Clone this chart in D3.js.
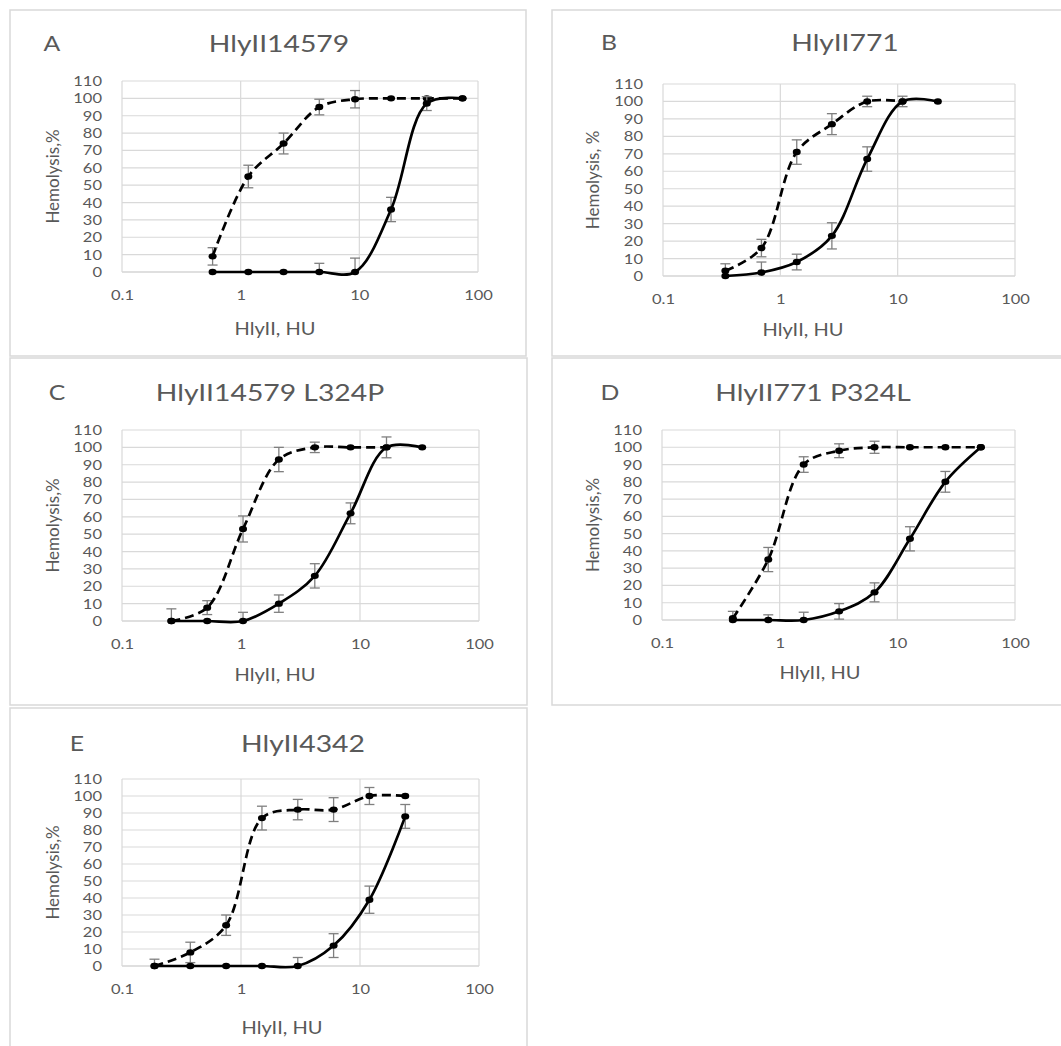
<!DOCTYPE html>
<html>
<head>
<meta charset="utf-8">
<script src="https://cdn.jsdelivr.net/npm/d3@7"></script>
<style>
  body { margin: 0; background: #fff; }
  text { font-family: Lato, "Open Sans", sans-serif; fill: #595959; }
</style>
</head>
<body>
<div id="chart"></div>
<script>
// hemolysis vs HlyII dose, 5 panels, log x axis

// panel A - HlyII14579
var xA = [0.58, 1.16, 2.3, 4.6, 9.2, 18.5, 37, 74];
var dashA = [9, 55, 74, 95, 99.5, 100, 100, 100];
var dashErrA = [5, 6.5, 6, 4.5, 5, 0, 0, 0];
var solidA = [0, 0, 0, 0, 0, 36, 97, 100];
var solidErrA = [0, 0, 0, 5, 8, 7, 4, 0];

// panel B - HlyII771
var xB = [0.34, 0.69, 1.38, 2.75, 5.5, 11, 22];
var dashB = [3, 16, 71, 87, 100, 100, null];
var dashErrB = [4, 5, 7, 6, 3, 0, 0];
var solidB = [0, 2, 8, 23, 67, 100, 100];
var solidErrB = [0, 6, 4.5, 7.5, 7, 3, 0];

// panel C - HlyII14579 L324P
var xC = [0.26, 0.52, 1.04, 2.08, 4.17, 8.33, 16.7, 33.3];
var dashC = [0, 7.7, 53, 93, 100, 100, 100, null];
var dashErrC = [7, 4, 7.5, 7, 3, 0, 0, 0];
var solidC = [0, 0, 0, 10, 26, 62, 100, 100];
var solidErrC = [0, 0, 5, 5, 7, 6, 6, 0];

// panel D - HlyII771 P324L
var xD = [0.4, 0.8, 1.6, 3.2, 6.4, 12.8, 25.6, 51.2];
var dashD = [1, 35, 90, 98, 100, 100, 100, 100];
var dashErrD = [4, 7, 4.5, 4, 3.5, 0, 0, 0];
var solidD = [0, 0, 0, 5, 16, 47, 80, 100];
var solidErrD = [0, 3, 4.5, 4.5, 5.5, 7, 6, 0];

// panel E - HlyII4342
var xE = [0.1875, 0.375, 0.75, 1.5, 3, 6, 12, 24];
var dashE = [0, 8, 24, 87, 92, 92, 100, 100];
var dashErrE = [4, 6, 6, 7, 6, 7, 5, 0];
var solidE = [0, 0, 0, 0, 0, 12, 39, 88];
var solidErrE = [0, 0, 0, 0, 5, 7, 8, 7];

var xTicks = [0.1, 1, 10, 100];
var yTicks = d3.range(0, 111, 10);

var w = 1061, h = 1046;
var SX = 1.18; // text looks horizontally stretched in the original

var svg = d3.select("#chart").append("svg")
            .attr("width", w)
            .attr("height", h);

// box = panel frame, plot = inner plot area (pixels)
var panels = [
  {letter: "A", title: "HlyII14579", ylab: "Hemolysis,%", x: xA, dash: dashA, dErr: dashErrA, solid: solidA, sErr: solidErrA,
   box: [10, 10, 516, 346], plot: [122, 478, 81, 272], titleX: 279, titleY: 43, letX: 52, ylabX: 53, xlabX: 275, xlabY: 329},
  {letter: "B", title: "HlyII771", ylab: "Hemolysis, %", x: xB, dash: dashB, dErr: dashErrB, solid: solidB, sErr: solidErrB,
   box: [552, 10, 520, 346], plot: [663, 1015, 84, 276], titleX: 845, titleY: 42, letX: 609, ylabX: 593, xlabX: 803, xlabY: 330},
  {letter: "C", title: "HlyII14579 L324P", ylab: "Hemolysis,%", x: xC, dash: dashC, dErr: dashErrC, solid: solidC, sErr: solidErrC,
   box: [10, 358, 517, 347], plot: [122, 479, 430, 621], titleX: 270, titleY: 392, letX: 57, ylabX: 53, xlabX: 275, xlabY: 675},
  {letter: "D", title: "HlyII771 P324L", ylab: "Hemolysis,%", x: xD, dash: dashD, dErr: dashErrD, solid: solidD, sErr: solidErrD,
   box: [552, 358, 520, 347], plot: [662, 1015, 430, 620], titleX: 813, titleY: 392, letX: 610, ylabX: 593, xlabX: 820, xlabY: 673},
  {letter: "E", title: "HlyII4342", ylab: "Hemolysis,%", x: xE, dash: dashE, dErr: dashErrE, solid: solidE, sErr: solidErrE,
   box: [10, 708, 517, 360], plot: [122, 479, 779, 966], titleX: 303, titleY: 743, letX: 77, ylabX: 53, xlabX: 282, xlabY: 1028}
];

function label(g, x, y, str, size) {
  g.append("text")
   .attr("transform", "translate(" + x + "," + y + ") scale(" + SX + ",1)")
   .attr("text-anchor", "middle")
   .attr("dy", "0.36em")
   .style("font-size", size + "px")
   .text(str);
}

var curve = d3.curveCatmullRom.alpha(0.5); // smoothed line like excel

panels.forEach(function (p) {
  var g = svg.append("g");

  g.append("rect")
   .attr("x", p.box[0]).attr("y", p.box[1])
   .attr("width", p.box[2]).attr("height", p.box[3])
   .attr("fill", "#fff")
   .attr("stroke", "#d9d9d9")
   .attr("stroke-width", 1.5);

  var x = d3.scaleLog().domain([0.1, 100]).range([p.plot[0], p.plot[1]]);
  var y = d3.scaleLinear().domain([0, 110]).range([p.plot[3], p.plot[2]]);

  // gridlines
  g.append("g").selectAll("line").data(yTicks).enter().append("line")
   .attr("x1", x(0.1)).attr("x2", x(100))
   .attr("y1", function (d) { return y(d); })
   .attr("y2", function (d) { return y(d); })
   .attr("stroke", function (d) { return d == 0 ? "#bfbfbf" : "#d9d9d9"; })
   .attr("stroke-width", 1.2);
  g.append("g").selectAll("line").data(xTicks).enter().append("line")
   .attr("x1", function (d) { return x(d); })
   .attr("x2", function (d) { return x(d); })
   .attr("y1", y(0)).attr("y2", y(110))
   .attr("stroke", "#d9d9d9")
   .attr("stroke-width", 1.2);

  // axes - labels only
  var yAxis = d3.axisLeft(y).tickValues(yTicks).tickSize(0).tickPadding(0);
  var ya = g.append("g").attr("transform", "translate(" + x(0.1) + ",0)").call(yAxis);
  ya.select(".domain").remove();
  ya.selectAll("text")
    .attr("x", -20 / SX)
    .attr("transform", "scale(" + SX + ",1)")
    .style("font-size", "14px").style("font-family", null).attr("fill", "#595959");

  var xAxis = d3.axisBottom(x).tickValues(xTicks).tickSize(0).tickPadding(18).tickFormat(d3.format("~g"));
  var xa = g.append("g").attr("transform", "translate(0," + y(0) + ")").call(xAxis);
  xa.select(".domain").remove();
  xa.selectAll(".tick text")
    .attr("x", 0)
    .attr("transform", "scale(" + SX + ",1)")
    .style("font-size", "14px").style("font-family", null).attr("fill", "#595959");

  // titles
  label(g, p.titleX, p.titleY, p.title, 24);
  label(g, p.letX, p.titleY, p.letter, 21);
  label(g, p.xlabX, p.xlabY, "HlyII, HU", 17);
  g.append("text")
   .attr("transform", "translate(" + p.ylabX + "," + (p.plot[2] + p.plot[3]) / 2 + ") rotate(-90)")
   .attr("text-anchor", "middle")
   .attr("dy", "0.36em")
   .style("font-size", "17px")
   .text(p.ylab);

  var series = [
    {vals: p.dash, err: p.dErr, dash: "9,5"},
    {vals: p.solid, err: p.sErr, dash: null}
  ];

  series.forEach(function (s) {
    var pts = p.x.map(function (xv, i) { return {x: xv, y: s.vals[i], e: s.err[i]}; })
                 .filter(function (d) { return d.y != null; });

    // error bars, cut at the axis minimum (0)
    var eb = g.append("g").selectAll("g").data(pts.filter(function (d) { return d.e > 0; }))
              .enter().append("g").attr("stroke", "#7f7f7f").attr("stroke-width", 1.3);
    eb.append("line")
      .attr("x1", function (d) { return x(d.x); }).attr("x2", function (d) { return x(d.x); })
      .attr("y1", function (d) { return y(Math.max(0, d.y - d.e)); }).attr("y2", function (d) { return y(d.y + d.e); });
    eb.append("line")
      .attr("x1", function (d) { return x(d.x) - 5; }).attr("x2", function (d) { return x(d.x) + 5; })
      .attr("y1", function (d) { return y(d.y + d.e); }).attr("y2", function (d) { return y(d.y + d.e); });
    eb.filter(function (d) { return d.y - d.e >= 0; }).append("line")
      .attr("x1", function (d) { return x(d.x) - 5; }).attr("x2", function (d) { return x(d.x) + 5; })
      .attr("y1", function (d) { return y(d.y - d.e); }).attr("y2", function (d) { return y(d.y - d.e); });

    var line = d3.line()
                 .x(function (d) { return x(d.x); })
                 .y(function (d) { return y(d.y); })
                 .curve(curve);

    g.append("path")
     .datum(pts)
     .attr("d", line)
     .attr("fill", "none")
     .attr("stroke", "#000")
     .attr("stroke-width", 2.7)
     .attr("stroke-dasharray", s.dash);

    g.append("g").selectAll("ellipse").data(pts).enter().append("ellipse")
     .attr("cx", function (d) { return x(d.x); })
     .attr("cy", function (d) { return y(d.y); })
     .attr("rx", 4).attr("ry", 3.2)
     .attr("fill", "#000");
  });
});
</script>
</body>
</html>
